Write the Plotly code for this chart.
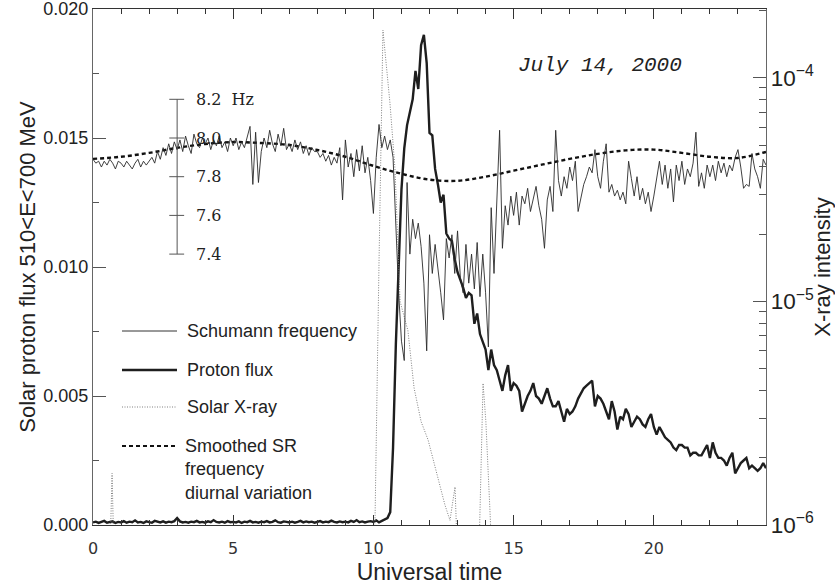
import numpy as np
import plotly.graph_objects as go

# ---------------- data ----------------
hours = np.round(np.arange(0, 241) * 0.1, 1)  # 6-minute samples, 0..24 UT

schumann_hz = [
    7.89, 7.87, 7.88, 7.85, 7.88, 7.86, 7.89, 7.87, 7.84, 7.88,
    7.87, 7.85, 7.88, 7.86, 7.84, 7.87, 7.89, 7.85, 7.88, 7.86,
    7.88, 7.90, 7.87, 7.93, 7.89, 7.95, 7.91, 7.97, 7.92, 7.98,
    7.94, 7.99, 7.93, 8.01, 7.96, 7.92, 8.02, 7.97, 7.95, 8.00,
    7.97, 8.00, 7.94, 7.99, 7.96, 8.01, 7.95, 7.98, 7.93, 8.00,
    7.96, 8.00, 7.94, 7.98, 7.95, 8.01, 8.06, 7.76, 8.03, 7.77,
    7.93, 8.00, 7.95, 8.04, 7.97, 7.93, 8.02, 7.96, 8.05, 7.94,
    7.97, 7.93, 7.99, 7.94, 7.98, 7.92, 7.96, 7.91, 7.95, 7.93,
    7.93, 7.90, 7.92, 7.88, 7.91, 7.86, 7.90, 7.87, 7.95, 7.68,
    7.99, 7.85, 7.92, 7.80, 7.94, 7.83, 7.96, 7.82, 7.90, 7.78,
    7.61, 7.90, 8.07, 7.95, 8.01, 7.94, 7.99, 7.90, 7.55, 7.20,
    6.95, 6.85, 7.77, 7.40, 7.58, 7.48, 7.56, 7.44, 7.25, 6.90,
    7.50, 7.30, 7.45, 7.34, 7.20, 7.06, 7.48, 7.38, 7.50, 7.30,
    7.52, 7.28, 7.20, 7.45, 7.25, 7.40, 7.22, 7.46, 7.18, 7.40,
    7.20, 6.92, 7.64, 7.30, 7.70, 8.04, 7.43, 7.65, 7.55, 7.70,
    7.60, 7.72, 7.55, 7.70, 7.66, 7.74, 7.62, 7.69, 7.75, 7.65,
    7.58, 7.43, 7.68, 7.75, 7.62, 8.04, 7.78, 7.70, 7.80, 7.74,
    7.85, 7.78, 7.88, 7.62, 7.70, 7.76, 7.80, 7.85, 7.82, 7.94,
    7.80, 7.74, 7.88, 7.97, 7.72, 7.76, 7.70, 7.73, 7.68, 7.72,
    7.66, 7.88, 7.79, 7.70, 7.80, 7.68, 7.74, 7.66, 7.72, 7.62,
    7.70, 7.80, 7.88, 7.76, 7.86, 7.74, 7.84, 7.67, 7.86, 7.78,
    7.88, 7.76, 7.84, 7.80, 7.87, 8.03, 7.75, 7.82, 7.74, 7.86,
    7.80, 7.86, 7.78, 7.88, 7.82, 7.87, 7.80, 7.86, 7.83, 7.90,
    7.94, 7.85, 7.74, 7.76, 7.75, 7.92, 7.84, 7.80, 7.74, 7.89,
    7.86,
]

proton_flux = [
    0.00010, 0.00013, 0.00008, 0.00012, 0.00016, 0.00009, 0.00011, 0.00014, 0.00008, 0.00012,
    0.00010, 0.00015, 0.00009, 0.00013, 0.00011, 0.00018, 0.00010, 0.00012, 0.00008, 0.00014,
    0.00011, 0.00009, 0.00016, 0.00012, 0.00010, 0.00014, 0.00009, 0.00013, 0.00011, 0.00015,
    0.00027, 0.00014, 0.00010, 0.00012, 0.00009, 0.00013, 0.00011, 0.00016, 0.00010, 0.00012,
    0.00009, 0.00014, 0.00011, 0.00019, 0.00012, 0.00010, 0.00013, 0.00009, 0.00015, 0.00011,
    0.00012, 0.00010, 0.00014, 0.00008, 0.00013, 0.00011, 0.00016, 0.00010, 0.00012, 0.00009,
    0.00013, 0.00011, 0.00015, 0.00010, 0.00012, 0.00018, 0.00011, 0.00009, 0.00014, 0.00012,
    0.00010, 0.00013, 0.00009, 0.00012, 0.00016, 0.00010, 0.00014, 0.00011, 0.00013, 0.00009,
    0.00012, 0.00015, 0.00010, 0.00013, 0.00011, 0.00017, 0.00012, 0.00010, 0.00014, 0.00011,
    0.00013, 0.00010, 0.00016, 0.00012, 0.00019, 0.00011, 0.00014, 0.00010, 0.00013, 0.00015,
    0.00012, 0.00018, 0.00010, 0.00015, 0.00022, 0.00027, 0.00050, 0.00300, 0.00700, 0.01020,
    0.01300, 0.01460, 0.01550, 0.01600, 0.01650, 0.01760, 0.01690, 0.01860, 0.01900, 0.01790,
    0.01520, 0.01510, 0.01380, 0.01320, 0.01250, 0.01280, 0.01130, 0.01110, 0.01100, 0.01030,
    0.00980, 0.00950, 0.00920, 0.00880, 0.00900, 0.00890, 0.00780, 0.00820, 0.00740, 0.00710,
    0.00680, 0.00600, 0.00680, 0.00620, 0.00600, 0.00560, 0.00520, 0.00580, 0.00620, 0.00520,
    0.00550, 0.00540, 0.00520, 0.00440, 0.00470, 0.00500, 0.00520, 0.00550, 0.00500, 0.00490,
    0.00470, 0.00500, 0.00530, 0.00490, 0.00460, 0.00460, 0.00480, 0.00440, 0.00400, 0.00450,
    0.00430, 0.00440, 0.00460, 0.00490, 0.00510, 0.00530, 0.00540, 0.00550, 0.00560, 0.00460,
    0.00500, 0.00490, 0.00470, 0.00440, 0.00410, 0.00480, 0.00440, 0.00370, 0.00420, 0.00410,
    0.00450, 0.00430, 0.00380, 0.00400, 0.00420, 0.00410, 0.00390, 0.00380, 0.00410, 0.00430,
    0.00380, 0.00350, 0.00380, 0.00360, 0.00340, 0.00330, 0.00320, 0.00300, 0.00290, 0.00310,
    0.00310, 0.00300, 0.00300, 0.00270, 0.00280, 0.00280, 0.00270, 0.00270, 0.00290, 0.00310,
    0.00260, 0.00320, 0.00280, 0.00260, 0.00260, 0.00250, 0.00230, 0.00260, 0.00280, 0.00200,
    0.00220, 0.00240, 0.00250, 0.00260, 0.00220, 0.00230, 0.00220, 0.00210, 0.00220, 0.00240,
    0.00220,
]

smooth_hours = list(range(25))
smooth_sr_hz = [7.892, 7.903, 7.923, 7.949, 7.969, 7.979, 7.974, 7.964, 7.938, 7.903,
                7.856, 7.815, 7.785, 7.779, 7.800, 7.831, 7.862, 7.892, 7.918, 7.936,
                7.940, 7.923, 7.903, 7.897, 7.928]

xray_hours = [0.00, 0.60, 0.68, 0.75, 10.00, 10.06, 10.20, 10.34, 10.59, 10.77,
              10.95, 11.23, 11.45, 11.70, 11.95, 12.27, 12.55, 12.73, 12.91, 13.00,
              13.76, 13.91, 14.01, 14.16, 14.23, 24.00]
xray_intensity = [7e-7, 7e-7, 1.7e-6, 7e-7, 7e-7, 1.1e-6, 1.5e-5, 1.63e-4, 7.7e-5, 3.9e-5,
                  1.0e-5, 7.4e-6, 4.1e-6, 2.9e-6, 2.4e-6, 1.67e-6, 1.23e-6, 1.05e-6, 1.48e-6, 7e-7,
                  7e-7, 4.3e-6, 2.9e-6, 1.13e-6, 7e-7, 7e-7]

inset_scale_hz = [7.4, 7.6, 7.8, 8.0, 8.2]
inset_scale_labels = ["7.4", "7.6", "7.8", "8.0", "8.2  Hz"]

x_ticks = [0, 5, 10, 15, 20]
flux_ticks = [0.000, 0.005, 0.010, 0.015, 0.020]

legend_names = ["Schumann frequency", "Proton flux", "Solar X-ray",
                "Smoothed SR<br>frequency<br>diurnal variation"]

# ---------------- figure ----------------
INK = "#222222"
SANS = "Liberation Sans, Arial"
fig = go.Figure()

fig.add_trace(go.Scatter(x=hours, y=proton_flux, mode="lines", yaxis="y",
                         line=dict(color="#1e1e1e", width=2.4), name="Proton flux",
                         showlegend=False))
fig.add_trace(go.Scatter(x=xray_hours, y=xray_intensity, mode="lines", yaxis="y2",
                         line=dict(color="#808080", width=1, dash="1px,1.5px"),
                         name="Solar X-ray", showlegend=False))
fig.add_trace(go.Scatter(x=smooth_hours, y=smooth_sr_hz, mode="lines", yaxis="y3",
                         line=dict(color="#111111", width=2.4, dash="4px,3px", shape="spline"),
                         name="Smoothed SR frequency diurnal variation", showlegend=False))
fig.add_trace(go.Scatter(x=hours, y=schumann_hz, mode="lines", yaxis="y3",
                         line=dict(color="#2a2a2a", width=0.9), name="Schumann frequency",
                         showlegend=False))

shapes = []
annotations = []

# inset frequency scale (drawn in the hidden Hz axis)
SCALE_X = 3.0
shapes.append(dict(type="line", xref="x", yref="y3", x0=SCALE_X, x1=SCALE_X,
                   y0=min(inset_scale_hz), y1=max(inset_scale_hz),
                   line=dict(color="#555555", width=1)))
for v, lab in zip(inset_scale_hz, inset_scale_labels):
    shapes.append(dict(type="line", xref="x", yref="y3", x0=SCALE_X - 0.28, x1=SCALE_X + 0.25,
                       y0=v, y1=v, line=dict(color="#555555", width=1)))
    annotations.append(dict(xref="x", yref="y3", x=SCALE_X + 0.6, y=v, text=lab,
                            showarrow=False, xanchor="left", yanchor="middle",
                            font=dict(family="DejaVu Serif", size=16, color=INK)))

# custom legend (paper coordinates)
L, T, B, R = 93, 9, 525, 766
W, H = R - L, B - T


def px(xp):
    return (xp - L) / W


def py(yp):
    return (B - yp) / H


leg_styles = [dict(color="#333333", width=1),
              dict(color="#1e1e1e", width=2.6),
              dict(color="#808080", width=1, dash="1px,1.5px"),
              dict(color="#111111", width=2.2, dash="4px,3px")]
leg_y = [331, 370, 407, 446]
for name, st, yy in zip(legend_names, leg_styles, leg_y):
    shapes.append(dict(type="line", xref="paper", yref="paper", x0=px(122), x1=px(177),
                       y0=py(yy), y1=py(yy), line=st))
    if "<br>" in name:
        annotations.append(dict(xref="paper", yref="paper", x=px(183), y=py(yy - 12),
                                text=name, showarrow=False, xanchor="left", yanchor="top",
                                align="left",
                                font=dict(family=SANS, size=18, color=INK)))
    else:
        annotations.append(dict(xref="paper", yref="paper", x=px(185), y=py(yy),
                                text=name, showarrow=False, xanchor="left", yanchor="middle",
                                font=dict(family=SANS, size=18, color=INK)))

# date label
annotations.append(dict(xref="paper", yref="paper", x=px(600), y=py(66),
                        text="<i>July 14, 2000</i>", showarrow=False,
                        xanchor="center", yanchor="middle",
                        font=dict(family="Liberation Mono", size=21, color=INK)))

fig.update_layout(
    width=835, height=588,
    margin=dict(l=L, r=835 - R, t=T, b=588 - B, autoexpand=False),
    paper_bgcolor="white", plot_bgcolor="white",
    showlegend=False,
    xaxis=dict(range=[0, 24], tickvals=x_ticks, ticks="inside", ticklen=10,
               tickcolor="#333333", showline=True, linecolor="#333333", linewidth=1.2,
               mirror="ticks", showgrid=False, zeroline=False, ticklabelstandoff=9,
               minor=dict(ticks="inside", ticklen=5, dtick=1, tickcolor="#333333",
                          showgrid=False),
               tickfont=dict(family="DejaVu Sans", size=16, color="#333333"),
               title=dict(text="Universal time", standoff=6,
                          font=dict(family=SANS, size=23, color=INK))),
    yaxis=dict(range=[0, 0.0200001], tickvals=flux_ticks, tickformat=".3f", ticks="inside",
               ticklen=13, tickcolor="#555555", showline=True, linecolor="#666666",
               linewidth=1.2, showgrid=False, zeroline=False, ticklabeloverflow="allow",
               minor=dict(ticks="inside", ticklen=6, dtick=0.0025, tickcolor="#555555",
                          showgrid=False),
               tickfont=dict(family=SANS, size=18, color=INK),
               title=dict(text="Solar proton flux 510<E<700 MeV", standoff=1,
                          font=dict(family=SANS, size=22, color=INK))),
    yaxis2=dict(type="log", overlaying="y", side="right", range=[-6, -3.693], dtick=1,
                exponentformat="power", ticks="inside", ticklen=13, tickcolor="#555555",
                showline=True, linecolor="#666666", linewidth=1.2, showgrid=False,
                zeroline=False, ticklabeloverflow="allow",
                minor=dict(ticks="inside", ticklen=7, dtick="D1", tickcolor="#555555",
                           showgrid=False),
                tickfont=dict(family=SANS, size=18, color=INK),
                title=dict(text="X-ray intensity", standoff=8,
                           font=dict(family=SANS, size=22, color=INK))),
    yaxis3=dict(overlaying="y", range=[6.0, 8.0 + 0.005 / 0.0075], visible=False),
    shapes=shapes,
    annotations=annotations,
)

fig.write_html("out.html")
